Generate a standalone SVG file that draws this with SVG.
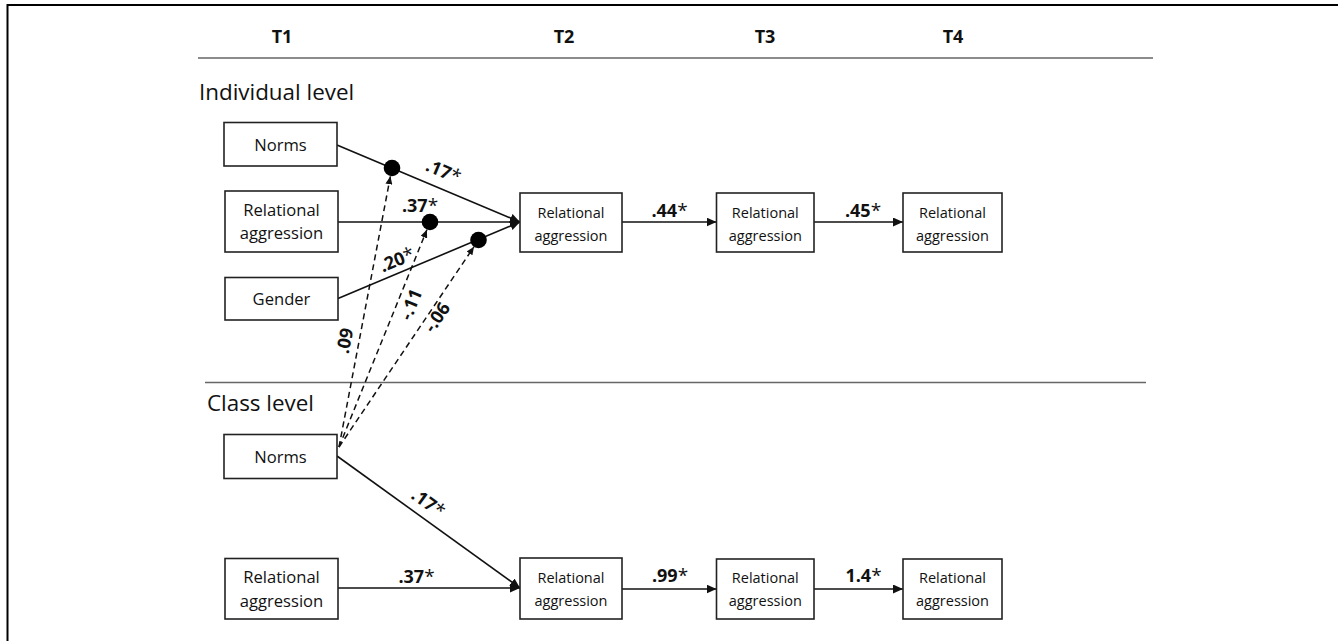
<svg xmlns="http://www.w3.org/2000/svg" width="1338" height="641" viewBox="0 0 1338 641">
<style>
text{font-family:"Open Sans","Liberation Sans",sans-serif;fill:#111}
.box{fill:#fff;stroke:#222;stroke-width:1.6}
.t1{font-size:16.6px;text-anchor:middle}
.tn{font-size:14.5px;text-anchor:middle}
.hdr{font-size:18px;font-weight:bold;text-anchor:middle}
.lvl{font-size:22.4px}
.lab{font-size:18px;font-weight:bold}
.lab tspan.s{font-weight:normal;font-size:19px}
.sep{stroke:#666;stroke-width:1.4}
.ln{stroke:#111;stroke-width:1.6;fill:none}
.dash{stroke:#111;stroke-width:1.5;fill:none;stroke-dasharray:6 4}
.dot{fill:#000}
</style>
<defs>
<marker id="ah" markerUnits="userSpaceOnUse" markerWidth="11" markerHeight="9" refX="10" refY="4.5" orient="auto">
<path d="M0,0 L10,4.5 L0,9 z" fill="#111"/>
</marker>
<marker id="ahs" markerUnits="userSpaceOnUse" markerWidth="9" markerHeight="7" refX="8" refY="3.5" orient="auto">
<path d="M0,0 L8,3.5 L0,7 z" fill="#111"/>
</marker>
</defs>
<rect width="1338" height="641" fill="#fff"/>
<!-- frame -->
<path d="M7.5,641 V5 H1338" fill="none" stroke="#000" stroke-width="2"/>
<!-- separators -->
<line class="sep" x1="198" y1="58" x2="1153" y2="58"/>
<line class="sep" x1="205" y1="382.5" x2="1146" y2="382.5"/>
<!-- headers -->
<g id="headers">
<text class="hdr" x="282" y="43">T1</text>
<text class="hdr" x="564" y="43">T2</text>
<text class="hdr" x="765" y="43">T3</text>
<text class="hdr" x="953" y="43">T4</text>
<text class="lvl" x="199" y="100">Individual level</text>
<text class="lvl" x="207" y="410.5">Class level</text>
</g>
<!-- connectors -->
<g id="connectors">
<line class="ln" x1="337" y1="145" x2="520" y2="222" marker-end="url(#ah)"/>
<line class="ln" x1="338" y1="222" x2="520" y2="222" marker-end="url(#ah)"/>
<line class="ln" x1="338" y1="298.5" x2="520" y2="222" marker-end="url(#ah)"/>
<line class="ln" x1="622" y1="222" x2="716.5" y2="222" marker-end="url(#ah)"/>
<line class="ln" x1="814" y1="222" x2="903" y2="222" marker-end="url(#ah)"/>
<line class="ln" x1="337" y1="456" x2="520" y2="588" marker-end="url(#ah)"/>
<line class="ln" x1="338" y1="588" x2="520" y2="588" marker-end="url(#ah)"/>
<line class="ln" x1="622" y1="589" x2="716.5" y2="589" marker-end="url(#ah)"/>
<line class="ln" x1="814" y1="589" x2="903" y2="589" marker-end="url(#ah)"/>
<line class="dash" x1="339" y1="447" x2="390.4" y2="176.3" marker-end="url(#ahs)"/>
<line class="dash" x1="339" y1="447" x2="426.9" y2="229.8" marker-end="url(#ahs)"/>
<line class="dash" x1="339" y1="447" x2="474" y2="246.7" marker-end="url(#ahs)"/>
<circle class="dot" cx="392" cy="168" r="8.3"/>
<circle class="dot" cx="430" cy="222" r="8.3"/>
<circle class="dot" cx="478.5" cy="240" r="8.3"/>
<text class="lab" transform="translate(443,172.5) rotate(22.8)" text-anchor="middle" y="5">.17<tspan class="s">*</tspan></text>
<text class="lab" x="420" y="211.5" text-anchor="middle">.37<tspan class="s">*</tspan></text>
<text class="lab" transform="translate(397.5,261) rotate(-22.7)" text-anchor="middle" y="5">.20<tspan class="s">*</tspan></text>
<text class="lab" transform="translate(346,341) rotate(-79.2)" text-anchor="middle" y="5">.09</text>
<text class="lab" transform="translate(412,305) rotate(-68)" text-anchor="middle" y="5">-.11</text>
<text class="lab" transform="translate(438,318) rotate(-56)" text-anchor="middle" y="5">-.06</text>
<text class="lab" x="669.5" y="217" text-anchor="middle">.44<tspan class="s">*</tspan></text>
<text class="lab" x="863" y="217" text-anchor="middle">.45<tspan class="s">*</tspan></text>
<text class="lab" transform="translate(427.5,504) rotate(35.7)" text-anchor="middle" y="5">.17<tspan class="s">*</tspan></text>
<text class="lab" x="416.5" y="582.5" text-anchor="middle">.37<tspan class="s">*</tspan></text>
<text class="lab" x="670" y="581.5" text-anchor="middle">.99<tspan class="s">*</tspan></text>
<text class="lab" x="863.5" y="581.5" text-anchor="middle">1.4<tspan class="s">*</tspan></text>
</g>
<!-- nodes -->
<g id="ind_norms"><rect class="box" x="224" y="122.5" width="113" height="43.5"/><text class="t1" x="280.5" y="150.5">Norms</text></g>
<g id="ind_ra_t1"><rect class="box" x="225" y="191" width="113" height="61"/><text class="t1" x="281.5" y="215.5">Relational</text><text class="t1" x="281.5" y="239">aggression</text></g>
<g id="ind_gender"><rect class="box" x="225" y="277.5" width="113" height="42.5"/><text class="t1" x="281.5" y="304.5">Gender</text></g>
<g id="ind_ra_t2"><rect class="box" x="520" y="193" width="102" height="59"/><text class="tn" x="571" y="217.5">Relational</text><text class="tn" x="571" y="240.5">aggression</text></g>
<g id="ind_ra_t3"><rect class="box" x="716.5" y="193" width="97.5" height="59"/><text class="tn" x="765.3" y="217.5">Relational</text><text class="tn" x="765.3" y="240.5">aggression</text></g>
<g id="ind_ra_t4"><rect class="box" x="903" y="193" width="99" height="59"/><text class="tn" x="952.5" y="217.5">Relational</text><text class="tn" x="952.5" y="240.5">aggression</text></g>
<g id="cls_norms"><rect class="box" x="224" y="434.5" width="113" height="44"/><text class="t1" x="280.5" y="462.5">Norms</text></g>
<g id="cls_ra_t1"><rect class="box" x="225" y="558.5" width="113" height="60.5"/><text class="t1" x="281.5" y="583">Relational</text><text class="t1" x="281.5" y="606.5">aggression</text></g>
<g id="cls_ra_t2"><rect class="box" x="520" y="558" width="102" height="61"/><text class="tn" x="571" y="583">Relational</text><text class="tn" x="571" y="606">aggression</text></g>
<g id="cls_ra_t3"><rect class="box" x="716.5" y="559" width="97.5" height="60"/><text class="tn" x="765.3" y="583">Relational</text><text class="tn" x="765.3" y="606">aggression</text></g>
<g id="cls_ra_t4"><rect class="box" x="903" y="559" width="99" height="60"/><text class="tn" x="952.5" y="583">Relational</text><text class="tn" x="952.5" y="606">aggression</text></g>
</svg>
